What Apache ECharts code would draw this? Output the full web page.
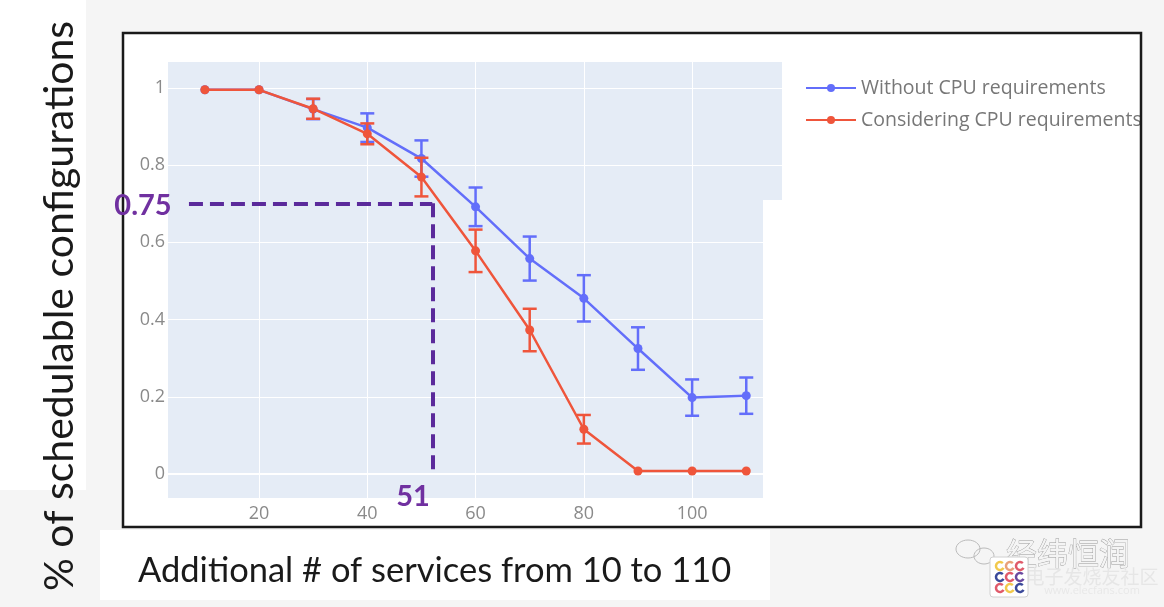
<!DOCTYPE html>
<html>
<head>
<meta charset="utf-8">
<script src="https://cdn.jsdelivr.net/npm/echarts@6/dist/echarts.min.js"></script>
<style>
html,body{margin:0;padding:0;background:#f5f5f5;}
#chart{width:1164px;height:607px;}
</style>
</head>
<body>
<div id="chart"></div>
<script>
// ---- data ----
const xValues = [10, 20, 30, 40, 50, 60, 70, 80, 90, 100, 110];
const withoutCpu = [0.995, 0.995, 0.945, 0.897, 0.817, 0.692, 0.558, 0.455, 0.325, 0.198, 0.203];
const withoutCpuErr = [0, 0, 0.026, 0.037, 0.047, 0.05, 0.057, 0.06, 0.055, 0.047, 0.047];
const withCpu = [0.995, 0.995, 0.946, 0.881, 0.769, 0.578, 0.373, 0.116, 0.008, 0.008, 0.008];
const withCpuErr = [0, 0, 0.026, 0.027, 0.05, 0.055, 0.055, 0.037, 0, 0, 0];
const xTicks = [20, 40, 60, 80, 100];
const yTicks = [0, 0.2, 0.4, 0.6, 0.8, 1];
const seriesNames = ['Without CPU requirements', 'Considering CPU requirements'];
const annotX = [7.06, 52];      // dashed guide: from x, to x
const annotY = [0.701, 0.01];   // dashed guide: y level, bottom
const annotLabels = ['0.75', '51'];

const BLUE = '#636efa', RED = '#ef553b', PURPLE = '#7030a0', DASH = '#5b2a9b';

function pairs(xs, ys) { return xs.map((x, i) => [x, ys[i]]); }
function triples(xs, ys, es) { return xs.map((x, i) => [x, ys[i], es[i]]); }

function errRender(color) {
  return function (params, api) {
    const x = api.value(0), y = api.value(1), e = api.value(2);
    if (!e) return null;
    const t = api.coord([x, y + e]), b = api.coord([x, y - e]);
    const hw = 7, st = { stroke: color, lineWidth: 2.5 };
    return {
      type: 'group',
      children: [
        { type: 'line', shape: { x1: t[0], y1: t[1], x2: b[0], y2: b[1] }, style: st },
        { type: 'line', shape: { x1: t[0] - hw, y1: t[1], x2: t[0] + hw, y2: t[1] }, style: st },
        { type: 'line', shape: { x1: b[0] - hw, y1: b[1], x2: b[0] + hw, y2: b[1] }, style: st }
      ]
    };
  };
}

const chart = echarts.init(document.getElementById('chart'), null, { renderer: 'canvas' });

const fmt = v => String(Math.round(v * 10) / 10);

const option = {
  animation: false,
  backgroundColor: '#f5f5f5',
  grid: {
    left: 168, top: 62, right: 382, bottom: 109,
    show: true, backgroundColor: '#e5ecf6', borderWidth: 0
  },
  xAxis: {
    type: 'value', min: 3.19, max: 116.6,
    axisLine: { show: false },
    axisTick: { show: false, customValues: xTicks },
    axisLabel: { customValues: xTicks, color: '#8a8a8a', fontSize: 18, fontFamily: 'Open Sans', margin: 7, formatter: fmt },
    splitLine: { show: true, lineStyle: { color: '#ffffff', width: 1 } }
  },
  yAxis: {
    type: 'value', min: -0.062, max: 1.067,
    axisLine: { show: false },
    axisTick: { show: false, customValues: yTicks },
    axisLabel: { customValues: yTicks, color: '#8a8a8a', fontSize: 18, fontFamily: 'Open Sans', margin: 3, formatter: fmt },
    splitLine: { show: true, lineStyle: { color: '#ffffff', width: 1 } }
  },
  legend: {
    data: seriesNames,
    orient: 'vertical',
    left: 800, top: 73,
    itemWidth: 50, itemHeight: 10, itemGap: 12,
    textStyle: { color: '#777', fontSize: 19.5, fontFamily: 'Open Sans' }
  },
  series: [
    {
      name: seriesNames[0], type: 'line', data: pairs(xValues, withoutCpu),
      color: BLUE, lineStyle: { width: 2.5, color: BLUE }, symbol: 'circle', symbolSize: 9,
      itemStyle: { color: BLUE }, z: 3,
      markLine: {
        silent: true, symbol: 'none', label: { show: false },
        lineStyle: { color: '#ffffff', width: 2, type: 'solid' },
        data: [{ yAxis: 0 }], z: 1
      }
    },
    {
      name: seriesNames[0] + ' err', type: 'custom', data: triples(xValues, withoutCpu, withoutCpuErr),
      encode: { x: 0, y: 1 }, renderItem: errRender(BLUE), z: 3
    },
    {
      name: seriesNames[1], type: 'line', data: pairs(xValues, withCpu),
      color: RED, lineStyle: { width: 2.5, color: RED }, symbol: 'circle', symbolSize: 9,
      itemStyle: { color: RED }, z: 4
    },
    {
      name: seriesNames[1] + ' err', type: 'custom', data: triples(xValues, withCpu, withCpuErr),
      encode: { x: 0, y: 1 }, renderItem: errRender(RED), z: 4
    },
    {
      name: 'guide', type: 'line', data: [], z: 6,
      markLine: {
        silent: true, symbol: 'none', label: { show: false },
        lineStyle: { color: DASH, width: 4, type: [14, 7] },
        data: [
          [{ coord: [annotX[0], annotY[0]] }, { coord: [annotX[1], annotY[0]] }],
          [{ coord: [annotX[1], annotY[0]] }, { coord: [annotX[1], annotY[1]] }]
        ]
      }
    }
  ],
  graphic: [
    // page backgrounds
    { type: 'rect', z: -100, shape: { x: 0, y: 0, width: 86, height: 490 }, style: { fill: '#ffffff' } },
    { type: 'rect', z: -100, shape: { x: 100, y: 530, width: 670, height: 70 }, style: { fill: '#ffffff' } },
    { type: 'rect', z: -99, shape: { x: 123, y: 33, width: 1018, height: 494 }, style: { fill: '#ffffff' } },
    // white patch covering the right part of the plot
    { type: 'rect', z: 50, shape: { x: 763, y: 200, width: 378, height: 327 }, style: { fill: '#ffffff' } },
    // frame
    { type: 'rect', z: 60, shape: { x: 123, y: 33, width: 1018, height: 494 }, style: { fill: 'none', stroke: '#1a1a1a', lineWidth: 2.5 } },
    // axis titles
    { type: 'text', z: 70, x: 60, y: 306, rotation: Math.PI / 2,
      style: { text: '% of schedulable configurations', font: '41px Lato', fill: '#1a1a1a', align: 'center', verticalAlign: 'middle' } },
    { type: 'text', z: 70, x: 138, y: 571,
      style: { text: 'Additional # of services from 10 to 110', font: '34.5px Lato', fill: '#1a1a1a', align: 'left', verticalAlign: 'middle' } },
    // annotation labels
    { type: 'text', z: 70, x: 143, y: 206,
      style: { text: annotLabels[0], font: 'bold 29px Lato', fill: PURPLE, align: 'center', verticalAlign: 'middle' } },
    { type: 'text', z: 70, x: 413, y: 497,
      style: { text: annotLabels[1], font: 'bold 29px Lato', fill: PURPLE, align: 'center', verticalAlign: 'middle' } },
    // watermark
    { type: 'ellipse', z: 70, shape: { cx: 968, cy: 549, rx: 12, ry: 9 }, style: { fill: 'none', stroke: '#bbbbbb', lineWidth: 1 } },
    { type: 'ellipse', z: 70, shape: { cx: 984, cy: 556, rx: 10, ry: 8 }, style: { fill: 'none', stroke: '#bbbbbb', lineWidth: 1 } },
    { type: 'text', z: 70, x: 1068, y: 553,
      style: { text: '经纬恒润', font: '31px "Noto Sans CJK SC"', fill: '#f4f4f4', stroke: '#9a9a9a', lineWidth: 0.8, align: 'center', verticalAlign: 'middle' } },
    { type: 'text', z: 70, x: 1092, y: 577,
      style: { text: '电子发烧友社区', font: '19px "Noto Sans CJK SC"', fill: '#e6e6e6', align: 'center', verticalAlign: 'middle' } },
    { type: 'text', z: 70, x: 1092, y: 591,
      style: { text: 'www.elecfans.com', font: '11px "Open Sans"', fill: '#e8e8e8', align: 'center', verticalAlign: 'middle' } },
    { type: 'rect', z: 70, shape: { x: 990, y: 557, width: 38, height: 40, r: 3 }, style: { fill: '#ffffff', stroke: '#d0d0d0', lineWidth: 1 } },
    { type: 'arc', z: 71, shape: { cx: 1000, cy: 566, r: 4, startAngle: 0.5, endAngle: 5.5 }, style: { stroke: '#f2c94c', lineWidth: 2.5, fill: 'none' } },
    { type: 'arc', z: 71, shape: { cx: 1010, cy: 566, r: 4, startAngle: 0.5, endAngle: 5.5 }, style: { stroke: '#e9a07a', lineWidth: 2.5, fill: 'none' } },
    { type: 'arc', z: 71, shape: { cx: 1020, cy: 566, r: 4, startAngle: 0.5, endAngle: 5.5 }, style: { stroke: '#e05a6a', lineWidth: 2.5, fill: 'none' } },
    { type: 'arc', z: 71, shape: { cx: 1000, cy: 577, r: 4, startAngle: 0.5, endAngle: 5.5 }, style: { stroke: '#3b4a9a', lineWidth: 2.5, fill: 'none' } },
    { type: 'arc', z: 71, shape: { cx: 1010, cy: 577, r: 4, startAngle: 0.5, endAngle: 5.5 }, style: { stroke: '#e05a6a', lineWidth: 2.5, fill: 'none' } },
    { type: 'arc', z: 71, shape: { cx: 1020, cy: 577, r: 4, startAngle: 0.5, endAngle: 5.5 }, style: { stroke: '#6a4aa0', lineWidth: 2.5, fill: 'none' } },
    { type: 'arc', z: 71, shape: { cx: 1000, cy: 588, r: 4, startAngle: 0.5, endAngle: 5.5 }, style: { stroke: '#e05a6a', lineWidth: 2.5, fill: 'none' } },
    { type: 'arc', z: 71, shape: { cx: 1010, cy: 588, r: 4, startAngle: 0.5, endAngle: 5.5 }, style: { stroke: '#f2c94c', lineWidth: 2.5, fill: 'none' } },
    { type: 'arc', z: 71, shape: { cx: 1020, cy: 588, r: 4, startAngle: 0.5, endAngle: 5.5 }, style: { stroke: '#3b4a9a', lineWidth: 2.5, fill: 'none' } }
  ]
};

chart.setOption(option);
</script>
</body>
</html>
